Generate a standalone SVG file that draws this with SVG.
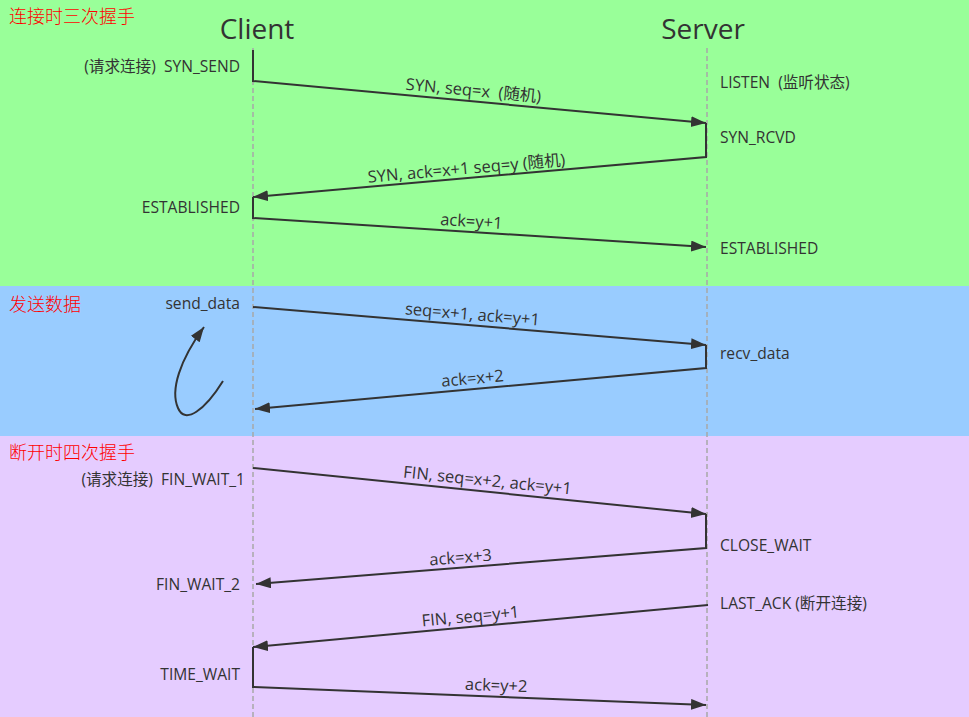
<svg xmlns="http://www.w3.org/2000/svg" width="969" height="717" viewBox="0 0 969 717">
<style>
.t{font-family:"Open Sans","Noto Sans","Noto Sans CJK SC",sans-serif;font-size:15.6px;fill:#333}
.r{text-anchor:end}
.h{font-family:"Noto Sans CJK SC","Noto Sans",sans-serif;font-size:18px;font-weight:300;fill:#ff0000}
.title{font-family:"Open Sans","Noto Sans",sans-serif;font-size:28px;fill:#333}
.lbl{font-family:"Open Sans","Noto Sans","Noto Sans CJK SC",sans-serif;font-size:16.5px;fill:#333;text-anchor:middle}
.life{stroke:#a8a8a8;stroke-width:1.5;stroke-dasharray:5 3;fill:none}
.c{stroke:#333;stroke-width:2;fill:none}
.a{marker-end:url(#ah)}
</style>
<defs>
<marker id="ah" markerUnits="userSpaceOnUse" markerWidth="16" markerHeight="12" refX="15" refY="5.5" orient="auto">
<path d="M0,0 L15,5.5 L0,11 Z" fill="#333"/>
</marker>
</defs>
<g id="bands">
<rect x="0" y="0" width="969" height="286" fill="#99ff99"/>
<rect x="0" y="286" width="969" height="150" fill="#99ccff"/>
<rect x="0" y="436" width="969" height="281" fill="#e5ccff"/>
<text class="h" x="9" y="23">连接时三次握手</text>
<text class="h" x="9" y="311">发送数据</text>
<text class="h" x="9" y="459">断开时四次握手</text>
</g>
<g id="client">
<text class="title" x="257" y="39" text-anchor="middle">Client</text>
<line class="life" x1="253" y1="48" x2="253" y2="717"/>
</g>
<g id="server">
<text class="title" x="703" y="39" text-anchor="middle">Server</text>
<line class="life" x1="707" y1="48" x2="707" y2="717"/>
</g>
<g id="client-states">
<text class="t r" x="240" y="72" xml:space="preserve">(请求连接)  SYN_SEND</text>
<text class="t r" x="240" y="213">ESTABLISHED</text>
<text class="t r" x="240" y="309">send_data</text>
<text class="t r" x="245" y="485" xml:space="preserve">(请求连接)  FIN_WAIT_1</text>
<text class="t r" x="240" y="590">FIN_WAIT_2</text>
<text class="t r" x="240" y="680">TIME_WAIT</text>
</g>
<g id="server-states">
<text class="t" x="720" y="88" xml:space="preserve">LISTEN  (监听状态)</text>
<text class="t" x="720" y="143">SYN_RCVD</text>
<text class="t" x="720" y="254">ESTABLISHED</text>
<text class="t" x="720" y="359">recv_data</text>
<text class="t" x="720" y="551">CLOSE_WAIT</text>
<text class="t" x="720" y="609">LAST_ACK (断开连接)</text>
</g>
<g id="connectors">
<path class="c a" d="M253,50 L253,81 L706,123"/>
<path class="c a" d="M706,123 L706,157 L253,197"/>
<path class="c a" d="M253,197 L253,218 L706,247"/>
<path class="c a" d="M253,307 L706,345"/>
<path class="c a" d="M706,345 L706,368 L255,409"/>
<path class="c a" d="M223,381 C205,410 185,425 178,408 C170,390 180,360 204,327"/>
<path class="c a" d="M253,468 L706,514"/>
<path class="c a" d="M706,514 L706,548 L256,584"/>
<path class="c a" d="M708,605 L253,647"/>
<path class="c a" d="M253,647 L253,687 L706,705"/>
<text class="lbl" transform="translate(473,96) rotate(5.3)" xml:space="preserve">SYN, seq=x  (随机)</text>
<text class="lbl" transform="translate(467,174) rotate(-5.05)">SYN, ack=x+1 seq=y (随机)</text>
<text class="lbl" transform="translate(471,227) rotate(3.66)">ack=y+1</text>
<text class="lbl" transform="translate(472,320) rotate(4.8)">seq=x+1, ack=y+1</text>
<text class="lbl" transform="translate(473,384) rotate(-5.2)">ack=x+2</text>
<text class="lbl" transform="translate(487,486) rotate(5.8)">FIN, seq=x+2, ack=y+1</text>
<text class="lbl" transform="translate(461,563) rotate(-4.57)">ack=x+3</text>
<text class="lbl" transform="translate(471,622) rotate(-5.3)">FIN, seq=y+1</text>
<text class="lbl" transform="translate(496,691) rotate(2.28)">ack=y+2</text>
</g>
</svg>
